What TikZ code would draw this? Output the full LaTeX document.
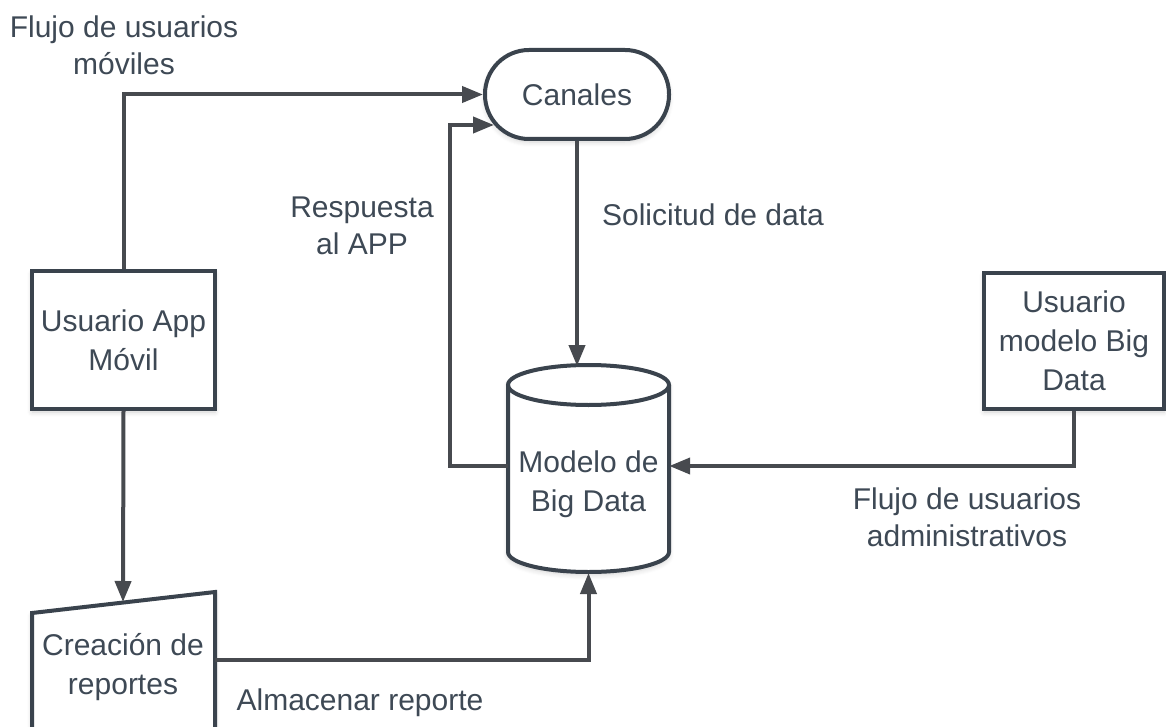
\documentclass[tikz,border=0pt]{standalone}
\usepackage{fontspec}
\setmainfont{Liberation Sans}
\usetikzlibrary{arrows.meta,shadows.blur}
\definecolor{ink}{HTML}{3E4955}
\definecolor{edge}{HTML}{3A434D}
\definecolor{wire}{HTML}{474A4F}
\tikzset{
  x=1pt, y=-1pt,
  txt/.style={text=ink, font=\fontsize{30}{39}\selectfont, align=center, inner sep=0pt},
  lbl/.style={txt, font=\fontsize{30}{37}\selectfont},
  boxshadow/.style={blur shadow={shadow xshift=0pt, shadow yshift=-3pt, shadow blur steps=6, shadow opacity=18, shadow blur radius=5pt}},
  stepbox/.style={txt, draw=edge, line width=4pt, fill=white, boxshadow},
  wirearrow/.style={draw=wire, line width=4pt, -{Triangle[length=21pt,width=16pt]}}
}
\begin{document}
\begin{tikzpicture}
\useasboundingbox (0,0) rectangle (1166,727);

% process boxes
\node[stepbox, minimum width=183pt, minimum height=138pt] (app) at (123.5,340) {Usuario App\\Móvil};
\node[stepbox, minimum width=180pt, minimum height=136pt] (admin) at (1074,341) {Usuario\\modelo Big\\Data};
\node[stepbox, rounded corners=44pt, minimum width=184pt, minimum height=89pt] (canales) at (577,94.5) {Canales};

% data store drawn as a cylinder
\path[boxshadow, fill=white] (508,385) -- (508,552) arc[start angle=180, end angle=360, x radius=80.5pt, y radius=20pt] -- (669,385) arc[start angle=0, end angle=180, x radius=80.5pt, y radius=20pt] -- cycle;
\draw[edge, line width=4pt, fill=white] (508,385) -- (508,552) arc[start angle=180, end angle=360, x radius=80.5pt, y radius=20pt] -- (669,385);
\draw[edge, line width=4pt] (588.5,385) ellipse[x radius=80.5pt, y radius=20pt];
\node[txt, minimum width=161pt] (db) at (588.5,484) {Modelo de\\Big Data};
\coordinate (dbmid) at (588.5,466);
\coordinate (dbtop) at (577,366);
\coordinate (dbbottom) at (588.5,573);

% manual input shape
\path[boxshadow, fill=white] (32,613) -- (215,592) -- (215,740) -- (32,740) -- cycle;
\draw[edge, line width=4pt, fill=white] (32,740) -- (32,613) -- (215,592) -- (215,740);
\node[txt] (rep) at (123,667) {Creación de\\reportes};
\coordinate (reptop) at (123,602);
\coordinate (repright) at (215,660);

% connectors
\draw[wirearrow] (app.north) |- (canales.west);
\draw[wirearrow] (db.west |- dbmid) -| (450,125) -- (494,125);
\draw[wirearrow] (canales.south -| dbtop) -- (dbtop);
\draw[wirearrow] (admin.south) |- (db.east |- dbmid);
\draw[wirearrow] (app.south) -- (reptop);
\draw[wirearrow] (repright) -| (dbbottom);

% connector labels
\node[lbl] (l1) at (124,45) {Flujo de usuarios\\móviles};
\node[lbl] (l2) at (362,226) {Respuesta\\al APP};
\node[lbl] (l3) at (713,215) {Solicitud de data};
\node[lbl] (l4) at (967,517) {Flujo de usuarios\\administrativos};
\node[lbl] (l5) at (360,703) {Almacenar reporte};
\end{tikzpicture}
\end{document}
